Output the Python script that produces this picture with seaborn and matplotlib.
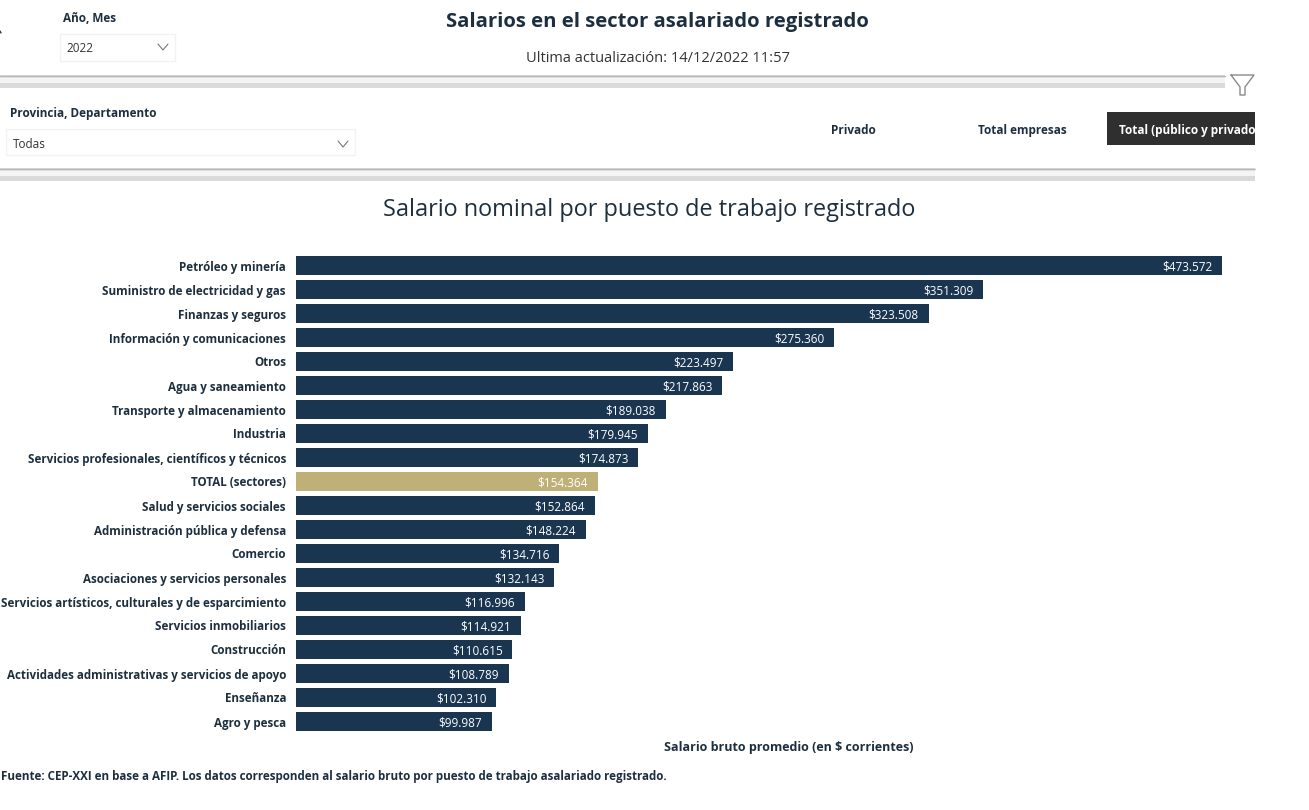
import pandas as pd
import seaborn as sns
import matplotlib.pyplot as plt
from matplotlib.patches import Rectangle

sectores = ["Petróleo y minería", "Suministro de electricidad y gas", "Finanzas y seguros",
            "Información y comunicaciones", "Otros", "Agua y saneamiento",
            "Transporte y almacenamiento", "Industria",
            "Servicios profesionales, científicos y técnicos", "TOTAL (sectores)",
            "Salud y servicios sociales", "Administración pública y defensa", "Comercio",
            "Asociaciones y servicios personales",
            "Servicios artísticos, culturales y de esparcimiento", "Servicios inmobiliarios",
            "Construcción", "Actividades administrativas y servicios de apoyo",
            "Enseñanza", "Agro y pesca"]
salarios = [473572, 351309, 323508, 275360, 223497, 217863, 189038, 179945, 174873, 154364,
            152864, 148224, 134716, 132143, 116996, 114921, 110615, 108789, 102310, 99987]
etiquetas = ["$473.572", "$351.309", "$323.508", "$275.360", "$223.497", "$217.863", "$189.038",
             "$179.945", "$174.873", "$154.364", "$152.864", "$148.224", "$134.716", "$132.143",
             "$116.996", "$114.921", "$110.615", "$108.789", "$102.310", "$99.987"]

AZUL = "#1a3550"
ORO = "#bfb077"
TEXTO = "#1d2f3f"

sns.set_theme(style="white")
plt.rcParams['font.family'] = ['Open Sans', 'DejaVu Sans']

W, H = 1309, 810
fig = plt.figure(figsize=(W / 100, H / 100), dpi=100, facecolor="white")

# capa de fondo en pixeles para los controles del tablero
bg = fig.add_axes([0, 0, 1, 1])
bg.set_xlim(0, W)
bg.set_ylim(H, 0)
bg.axis("off")

# bandas grises
for y0, x1 in [(75, 1225), (168, 1255)]:
    bg.add_patch(Rectangle((0, y0), x1, 13, fc="#dadada", ec="none"))
    bg.add_patch(Rectangle((0, y0 + 1), x1, 2, fc="#e8e8e8", ec="none"))
    bg.add_patch(Rectangle((0, y0 + 3), x1, 5, fc="#f4f4f4", ec="none"))
    bg.plot([0, x1], [y0 + 0.5, y0 + 0.5], color="#b8b8b8", lw=1)

# embudo
bg.plot([1231, 1254, 1245, 1245, 1240, 1240, 1231], [75, 75, 87, 95, 95, 87, 75], color="#8a8a8a", lw=1)

# desplegables
for x, y, w, h in [(60, 34, 115, 27), (6, 129, 349, 26)]:
    bg.add_patch(Rectangle((x, y), w, h, fc="white", ec="#f3f3f3", lw=1))
for cx, cy in [(163, 47), (343, 144)]:
    bg.plot([cx - 5, cx, cx + 5], [cy - 3, cy + 3, cy - 3], color="#777777", lw=0.8)

# marca del borde
bg.plot([0, 1], [31, 33], color="#333333", lw=1)

# boton activo
bg.add_patch(Rectangle((1107, 112), 148, 33, fc="#2f2f2f", ec="none"))

bg.text(63, 18, "Año, Mes", fontsize=8.5, fontweight="bold", color=TEXTO, va="center")
bg.text(66, 48, "2022", fontsize=8.5, color="#333333", va="center")
bg.text(10, 113, "Provincia, Departamento", fontsize=8.5, fontweight="bold", color=TEXTO, va="center")
bg.text(13, 144, "Todas", fontsize=8.5, color="#333333", va="center")
bg.text(657.5, 20, "Salarios en el sector asalariado registrado", fontsize=14.6, fontweight="bold",
        color=TEXTO, ha="center", va="center_baseline")
bg.text(658, 56, "Ultima actualización: 14/12/2022 11:57", fontsize=10.5, color="#333333",
        ha="center", va="center_baseline")
bg.text(853, 129, "Privado", fontsize=8.5, fontweight="bold", color=TEXTO, ha="center", va="center_baseline")
bg.text(1022, 129, "Total empresas", fontsize=8.5, fontweight="bold", color=TEXTO, ha="center",
        va="center_baseline")
bg.text(1119, 129, "Total (público y privado)", fontsize=8.5, fontweight="bold", color="white",
        va="center_baseline", clip_on=True,
        clip_path=Rectangle((1107, 112), 148, 33, transform=bg.transData))
bg.text(649, 207, "Salario nominal por puesto de trabajo registrado", fontsize=16.9, color=TEXTO,
        ha="center", va="center_baseline")
bg.text(789, 746, "Salario bruto promedio (en $ corrientes)", fontsize=9, fontweight="bold",
        color=TEXTO, ha="center", va="center_baseline")
bg.text(1, 775, "Fuente: CEP-XXI en base a AFIP. Los datos corresponden al salario bruto por puesto "
        "de trabajo asalariado registrado.", fontsize=8.4, fontweight="bold", color=TEXTO,
        va="center_baseline")

# grafico principal
ax = fig.add_axes([296 / W, 1 - 733.5 / H, 926 / W, 480 / H])
ax.patch.set_alpha(0)

df = pd.DataFrame({"sector": sectores, "salario": salarios})
colores = {s: (ORO if s.startswith("TOTAL") else AZUL) for s in sectores}
sns.barplot(data=df, x="salario", y="sector", hue="sector", palette=colores, legend=False,
            width=0.79, saturation=1, linewidth=0, ax=ax)

ax.set_xlim(0, max(salarios))
ax.set_ylim(19.5, -0.5)
ax.set_xlabel("")
ax.set_ylabel("")
ax.set_xticks([])
ax.tick_params(axis="y", length=0, pad=7.2)
for lab in ax.get_yticklabels():
    lab.set_fontsize(8.4)
    lab.set_fontweight("bold")
    lab.set_color(TEXTO)
    lab.set_va("center_baseline")
sns.despine(ax=ax, left=True, bottom=True)

for i, (v, t) in enumerate(zip(salarios, etiquetas)):
    ax.annotate(t, (v, i), xytext=(-7, 0), textcoords="offset points", ha="right", va="center_baseline",
                fontsize=8.5, color="white")

fig.savefig("out.png", dpi=100)
